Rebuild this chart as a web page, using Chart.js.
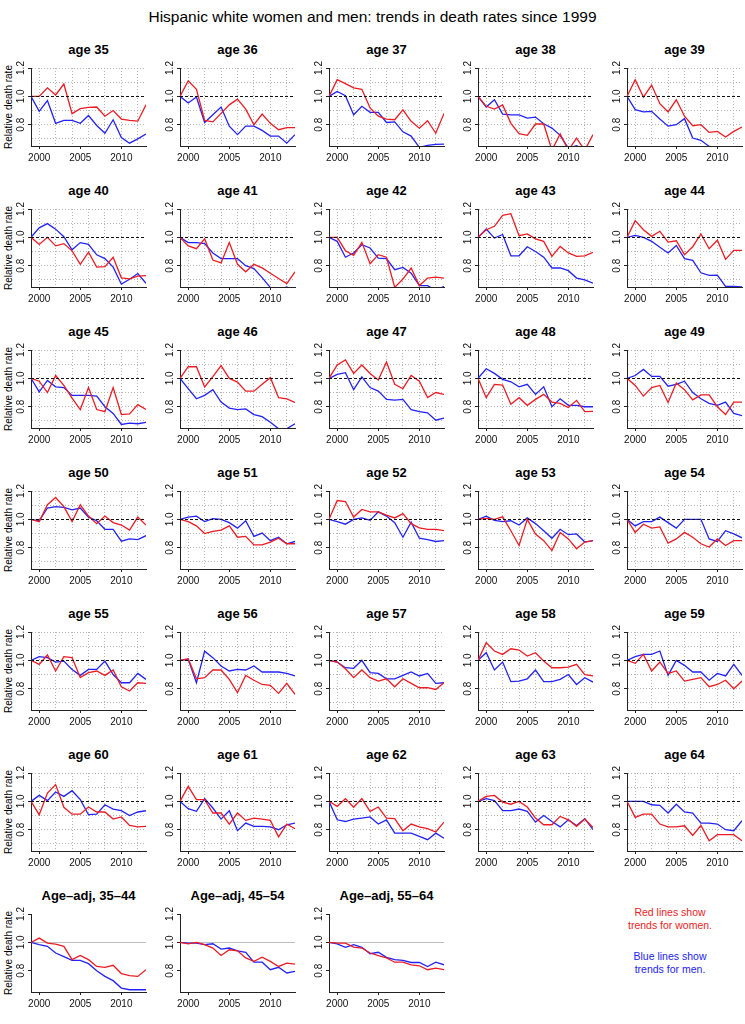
<!DOCTYPE html>
<html><head><meta charset="utf-8">
<script src="https://cdn.jsdelivr.net/npm/chart.js@4/dist/chart.umd.min.js"></script>
<style>
html,body{margin:0;padding:0;background:#fff;}
#wrap{position:relative;width:745px;height:1024px;overflow:hidden;font-family:'Liberation Sans',Arial,sans-serif;color:#000;}
canvas{position:absolute;}
.main{position:absolute;left:0;top:8px;width:745px;text-align:center;font-size:15.5px;line-height:18px;white-space:nowrap;}
.ttl{position:absolute;width:149px;text-align:center;font-weight:bold;font-size:13px;line-height:16px;white-space:nowrap;}
.ylab{position:absolute;width:120px;height:12px;line-height:12px;text-align:center;font-size:10px;white-space:nowrap;transform:rotate(-90deg);}
.leg{position:absolute;left:595px;width:150px;text-align:center;font-size:10.5px;line-height:13px;}
</style></head><body><div id="wrap"></div>
<script>
// ---------- data ----------
const years = [1999,2000,2001,2002,2003,2004,2005,2006,2007,2008,2009,2010,2011,2012,2013];
const xGridYears = [2000,2002,2004,2006,2008,2010,2012];
const xLabelYears = [2000,2005,2010];
const yTicks = [0.7,0.8,0.9,1.0,1.1,1.2];
const yTickLabels = ['','0.8','','1.0','','1.2'];
const referenceValue = 1.0;

const panelTitles = ['age 35','age 36','age 37','age 38','age 39',
  'age 40','age 41','age 42','age 43','age 44',
  'age 45','age 46','age 47','age 48','age 49',
  'age 50','age 51','age 52','age 53','age 54',
  'age 55','age 56','age 57','age 58','age 59',
  'age 60','age 61','age 62','age 63','age 64',
  'Age\u2013adj, 35\u201344','Age\u2013adj, 45\u201354','Age\u2013adj, 55\u201364'];

// women (red) / men (blue), relative to 1999
const w35 = [1.0,1.0,1.06,1.01,1.087,0.878,0.913,0.922,0.925,0.86,0.90,0.84,0.83,0.825,0.94];
const m35 = [1.0,0.894,0.97,0.81,0.83,0.83,0.81,0.865,0.795,0.74,0.835,0.71,0.67,0.70,0.735];
const w36 = [1.0,1.11,1.05,0.83,0.82,0.88,0.94,0.98,0.91,0.80,0.875,0.81,0.765,0.78,0.78];
const m36 = [1.0,0.953,0.995,0.816,0.87,0.925,0.79,0.73,0.79,0.79,0.76,0.72,0.72,0.67,0.73];
const w37 = [1.0,1.118,1.09,1.06,1.05,0.918,0.86,0.84,0.835,0.905,0.824,0.776,0.828,0.74,0.88];
const m37 = [1.0,1.035,1.005,0.87,0.93,0.887,0.887,0.816,0.82,0.75,0.72,0.64,0.655,0.662,0.663];
const w38 = [1.0,0.93,0.91,0.94,0.81,0.737,0.725,0.805,0.805,0.62,0.735,0.62,0.705,0.62,0.73];
const m38 = [1.0,0.925,0.976,0.875,0.87,0.87,0.847,0.854,0.807,0.776,0.725,0.635,0.652,0.62,0.61];
const w39 = [1.0,1.118,0.995,1.08,0.948,0.89,0.976,0.86,0.793,0.80,0.746,0.753,0.713,0.753,0.784];
const m39 = [1.0,0.906,0.89,0.894,0.84,0.79,0.80,0.843,0.706,0.69,0.647,0.64,0.63,0.62,0.61];
const w40 = [1.0,0.95,1.0,0.94,0.956,0.905,0.81,0.895,0.79,0.794,0.86,0.715,0.708,0.727,0.73];
const m40 = [1.0,1.067,1.097,1.058,1.005,0.912,0.963,0.95,0.877,0.85,0.79,0.67,0.705,0.745,0.676];
const w41 = [1.0,0.94,0.92,0.99,0.84,0.82,0.963,0.81,0.757,0.81,0.785,0.747,0.71,0.674,0.757];
const m41 = [1.0,0.963,0.963,0.956,0.89,0.85,0.85,0.85,0.80,0.78,0.716,0.646,0.63,0.65,0.62];
const w42 = [1.0,1.0,0.906,0.873,0.965,0.814,0.878,0.86,0.647,0.706,0.784,0.66,0.713,0.72,0.713];
const m42 = [1.0,0.972,0.86,0.89,0.948,0.925,0.854,0.85,0.772,0.788,0.748,0.66,0.66,0.626,0.654];
const w43 = [1.0,1.054,1.078,1.155,1.167,1.012,1.024,0.99,0.972,0.866,0.936,0.89,0.866,0.87,0.894];
const m43 = [1.0,1.059,0.995,1.02,0.87,0.87,0.934,0.90,0.86,0.784,0.784,0.765,0.713,0.70,0.677];
const w44 = [1.0,1.118,1.054,1.007,1.043,0.967,0.976,0.878,0.934,1.024,0.92,0.98,0.845,0.908,0.908];
const m44 = [1.0,1.014,1.0,0.972,0.93,0.89,0.943,0.85,0.838,0.75,0.732,0.734,0.654,0.654,0.65];
const w45 = [1.0,0.98,0.90,1.02,0.95,0.86,0.78,0.935,0.78,0.765,0.935,0.745,0.75,0.815,0.78];
const m45 = [1.0,0.905,0.985,0.94,0.935,0.88,0.88,0.88,0.875,0.80,0.753,0.675,0.685,0.68,0.69];
const w46 = [1.0,1.082,1.082,0.94,1.012,1.09,1.0,0.974,0.91,0.91,0.958,1.005,0.864,0.856,0.83];
const m46 = [1.0,0.927,0.856,0.88,0.92,0.833,0.79,0.78,0.785,0.745,0.73,0.69,0.645,0.645,0.68];
const w47 = [1.0,1.094,1.13,1.035,1.094,1.035,0.988,1.115,0.958,0.927,1.02,0.98,0.864,0.90,0.887];
const m47 = [1.0,1.028,1.04,0.92,1.01,0.935,0.91,0.852,0.847,0.852,0.78,0.765,0.757,0.705,0.72];
const w48 = [1.0,0.864,0.958,0.953,0.817,0.864,0.81,0.852,0.887,0.833,0.824,0.794,0.845,0.765,0.767];
const m48 = [1.0,1.068,1.035,0.993,0.976,0.94,0.958,0.887,0.94,0.80,0.856,0.81,0.81,0.80,0.80];
const w49 = [1.0,0.95,0.875,0.935,0.95,0.83,0.967,0.92,0.848,0.883,0.883,0.80,0.745,0.833,0.833];
const m49 = [1.0,1.02,1.063,1.014,1.014,0.945,0.957,0.98,0.90,0.856,0.824,0.81,0.833,0.753,0.737];
const w50 = [1.0,0.984,1.103,1.154,1.09,0.984,1.103,1.023,0.97,1.023,0.977,0.96,0.924,1.016,0.96];
const m50 = [1.0,0.99,1.08,1.09,1.084,1.067,1.08,1.016,0.99,0.93,0.93,0.846,0.862,0.857,0.885];
const w51 = [1.0,0.984,0.954,0.90,0.915,0.924,0.954,0.874,0.88,0.82,0.82,0.84,0.867,0.828,0.828];
const m51 = [1.0,1.016,1.023,0.984,1.005,1.0,0.977,0.938,0.99,0.88,0.903,0.85,0.874,0.828,0.844];
const w52 = [1.0,1.133,1.126,1.016,1.07,1.053,1.053,1.03,1.01,1.04,0.97,0.94,0.93,0.93,0.92];
const m52 = [1.0,0.984,0.966,1.0,1.01,0.993,1.053,1.023,0.977,0.874,0.98,0.867,0.857,0.844,0.85];
const w53 = [1.0,1.007,1.0,1.018,0.92,0.816,1.0,0.897,0.85,0.78,0.908,0.862,0.793,0.84,0.85];
const m53 = [1.0,1.023,0.993,0.984,0.99,0.96,1.01,0.97,0.92,0.867,0.93,0.892,0.897,0.84,0.85];
const w54 = [1.0,0.908,0.966,0.938,0.947,0.832,0.862,0.908,0.874,0.828,0.805,0.862,0.816,0.85,0.85];
const m54 = [1.0,0.954,0.984,0.984,1.016,0.977,0.938,1.0,1.0,1.0,0.862,0.844,0.92,0.897,0.87];
const w55 = [1.0,0.972,1.038,0.925,1.026,1.019,0.878,0.913,0.925,0.894,0.932,0.814,0.784,0.842,0.838];
const m55 = [1.0,1.026,1.019,0.988,0.995,0.936,0.894,0.936,0.936,0.995,0.90,0.842,0.842,0.908,0.866];
const w56 = [1.0,1.012,0.87,0.878,0.932,0.932,0.866,0.772,0.894,0.86,0.83,0.824,0.767,0.838,0.76];
const m56 = [1.0,1.007,0.842,1.065,1.019,0.96,0.925,0.936,0.932,0.96,0.918,0.918,0.918,0.908,0.89];
const w57 = [1.0,0.988,0.941,0.878,0.932,0.878,0.854,0.87,0.814,0.87,0.838,0.807,0.807,0.795,0.842];
const m57 = [1.0,0.988,0.948,0.944,1.0,0.913,0.908,0.87,0.87,0.894,0.918,0.89,0.908,0.838,0.842];
const w58 = [1.0,1.125,1.066,1.042,1.082,1.073,1.03,1.054,0.995,0.948,0.948,0.953,0.972,0.90,0.89];
const m58 = [1.0,1.054,0.932,0.988,0.85,0.854,0.87,0.932,0.85,0.85,0.866,0.90,0.83,0.878,0.847];
const w59 = [1.0,0.979,1.042,0.925,0.988,0.908,0.925,0.854,0.866,0.878,0.814,0.83,0.86,0.80,0.854];
const m59 = [1.0,1.026,1.042,1.042,1.066,0.894,1.0,0.965,0.918,0.918,0.86,0.908,0.89,0.972,0.894];
const w60 = [1.0,0.906,1.059,1.118,0.958,0.91,0.91,0.96,0.925,0.925,0.875,0.89,0.83,0.82,0.824];
const m60 = [1.0,1.042,1.005,1.066,1.035,1.075,1.012,0.906,0.91,0.976,0.946,0.934,0.90,0.925,0.934];
const w61 = [1.0,1.106,1.012,1.012,0.918,0.918,0.84,0.918,0.866,0.882,0.875,0.866,0.75,0.84,0.807];
const m61 = [1.0,0.948,0.93,1.019,0.953,0.875,0.934,0.793,0.847,0.824,0.824,0.82,0.80,0.835,0.847];
const w62 = [1.0,0.965,1.019,0.958,1.019,0.93,0.96,0.882,0.878,0.793,0.84,0.82,0.807,0.784,0.854];
const m62 = [1.0,0.87,0.858,0.875,0.882,0.89,0.84,0.87,0.776,0.776,0.776,0.753,0.73,0.776,0.74];
const w63 = [1.0,1.035,1.042,0.995,0.98,1.0,0.96,0.882,0.835,0.835,0.894,0.87,0.824,0.875,0.816];
const m63 = [1.0,1.019,1.005,0.934,0.934,0.946,0.93,0.854,0.90,0.858,0.82,0.87,0.83,0.878,0.80];
const w64 = [1.0,0.887,0.91,0.91,0.84,0.82,0.82,0.828,0.76,0.83,0.722,0.765,0.765,0.765,0.722];
const m64 = [1.0,1.0,1.0,0.976,0.972,0.918,0.98,0.925,0.918,0.847,0.847,0.84,0.80,0.793,0.864];
const wAdj3544 = [1.0,1.03,0.995,0.988,0.972,0.878,0.908,0.878,0.83,0.824,0.838,0.78,0.766,0.76,0.807];
const mAdj3544 = [1.0,0.984,0.972,0.925,0.90,0.873,0.873,0.85,0.80,0.76,0.73,0.678,0.666,0.666,0.666];
const wAdj4554 = [1.0,0.99,1.0,0.984,0.96,0.908,0.948,0.94,0.89,0.866,0.896,0.866,0.83,0.854,0.847];
const mAdj4554 = [1.0,0.995,0.995,0.984,0.99,0.953,0.96,0.94,0.93,0.86,0.86,0.807,0.824,0.784,0.795];
const wAdj5564 = [1.0,0.995,0.995,0.967,0.96,0.925,0.906,0.89,0.86,0.86,0.842,0.835,0.807,0.818,0.807];
const mAdj5564 = [1.0,0.99,0.965,0.984,0.965,0.92,0.93,0.894,0.878,0.873,0.858,0.858,0.83,0.86,0.842];

const womenSeries = [w35,w36,w37,w38,w39,w40,w41,w42,w43,w44,w45,w46,w47,w48,w49,w50,w51,w52,w53,w54,
  w55,w56,w57,w58,w59,w60,w61,w62,w63,w64,wAdj3544,wAdj4554,wAdj5564];
const menSeries = [m35,m36,m37,m38,m39,m40,m41,m42,m43,m44,m45,m46,m47,m48,m49,m50,m51,m52,m53,m54,
  m55,m56,m57,m58,m59,m60,m61,m62,m63,m64,mAdj3544,mAdj4554,mAdj5564];

// ---------- style ----------
const RED = '#ec1c24', BLUE = '#2323f5', AXIS = '#222', GRID = '#b4b4b4', NONE = 'rgba(0,0,0,0)';
const FAMILY = "'Liberation Sans', Arial, sans-serif";
Chart.defaults.font.family = FAMILY;
const CELL_W = 149, CELL_H = 141, TOP0 = 25;

const refLinePlugin = {
  id: 'refLine',
  _draw(chart, opts) {
    const {ctx, chartArea, scales} = chart;
    const py = Math.round(scales.y.getPixelForValue(referenceValue)) + 0.5;
    ctx.save();
    ctx.beginPath();
    ctx.rect(chartArea.left, chartArea.top, chartArea.right - chartArea.left, chartArea.bottom - chartArea.top);
    ctx.clip();
    ctx.strokeStyle = opts.adj ? '#bdbdbd' : '#111';
    ctx.lineWidth = opts.adj ? 1 : 1.2;
    ctx.setLineDash(opts.adj ? [] : [3, 2]);
    ctx.beginPath();
    ctx.moveTo(chartArea.left, py);
    ctx.lineTo(chartArea.right, py);
    ctx.stroke();
    ctx.restore();
  },
  beforeDatasetsDraw(chart, args, opts) { if (opts.adj) this._draw(chart, opts); },
  afterDatasetsDraw(chart, args, opts) { if (!opts.adj) this._draw(chart, opts); }
};

const wrap = document.getElementById('wrap');
function addDiv(cls, text, css) {
  const d = document.createElement('div');
  d.className = cls; d.textContent = text;
  Object.assign(d.style, css);
  wrap.appendChild(d);
  return d;
}

addDiv('main', 'Hispanic white women and men: trends in death rates since 1999', {});

const xTickValues = Array.from(new Set([...xGridYears, ...xLabelYears])).sort((a, b) => a - b);

panelTitles.forEach((title, idx) => {
  const r = Math.floor(idx / 5), c = idx % 5;
  const adj = idx >= 30;
  const left = CELL_W * c, top = CELL_H * r + TOP0;

  addDiv('ttl', title, {left: (left + 14) + 'px', top: (top + 17) + 'px'});
  if (c === 0) {
    addDiv('ylab', 'Relative death rate', {left: (8.5 - 60) + 'px', top: (top + 43 + 39 - 6) + 'px'});
  }

  const cv = document.createElement('canvas');
  cv.width = CELL_W; cv.height = CELL_H;
  cv.style.left = left + 'px'; cv.style.top = top + 'px';
  cv.style.width = CELL_W + 'px'; cv.style.height = CELL_H + 'px';
  wrap.appendChild(cv);

  const women = womenSeries[idx], men = menSeries[idx];
  new Chart(cv, {
    type: 'line',
    data: {
      datasets: [
        {label: 'women', data: years.map((y, i) => ({x: y, y: women[i]})), borderColor: RED,
         borderWidth: 1.3, pointRadius: 0, tension: 0, clip: 0, fill: false},
        {label: 'men', data: years.map((y, i) => ({x: y, y: men[i]})), borderColor: BLUE,
         borderWidth: 1.3, pointRadius: 0, tension: 0, clip: 0, fill: false}
      ]
    },
    options: {
      responsive: false, animation: false, events: [], devicePixelRatio: 1,
      layout: {padding: {left: 0, right: 3, top: 43, bottom: 0}},
      plugins: {legend: {display: false}, tooltip: {enabled: false}, title: {display: false}, refLine: {adj}},
      scales: {
        x: {
          type: 'linear', min: 1999, max: 2013, bounds: 'data',
          afterBuildTicks: s => { s.ticks = xTickValues.map(v => ({value: v})); },
          afterFit: s => { s.height = 20; },
          ticks: {autoSkip: false, maxRotation: 0, minRotation: 0, padding: 3, color: '#111',
            font: {size: 10, family: FAMILY},
            callback: v => xLabelYears.includes(v) ? String(v) : ''},
          grid: {
            lineWidth: 1, tickLength: 3, tickWidth: 1,
            color: ctx => (!adj && ctx.tick && xGridYears.includes(ctx.tick.value)) ? GRID : NONE,
            tickColor: ctx => (ctx.tick && xLabelYears.includes(ctx.tick.value)) ? AXIS : NONE
          },
          border: {display: true, color: AXIS, width: 1, dash: [1, 2]}
        },
        y: {
          type: 'linear', min: 0.65, max: 1.2, bounds: 'data',
          afterBuildTicks: s => { s.ticks = yTicks.map(v => ({value: v})); },
          afterFit: s => { s.width = 31; },
          ticks: {autoSkip: false, minRotation: 90, maxRotation: 90, crossAlign: 'center', padding: 0,
            color: '#111', font: {size: 10, family: FAMILY},
            callback: (v, i) => yTickLabels[i]},
          grid: {
            lineWidth: 1, tickLength: 3, tickWidth: 1,
            color: ctx => (!adj && ctx.tick && Math.abs(ctx.tick.value - referenceValue) > 1e-6) ? GRID : NONE,
            tickColor: ctx => (ctx.tick && yTickLabels[yTicks.indexOf(ctx.tick.value)]) ? AXIS : NONE
          },
          border: {display: true, color: AXIS, width: 1, dash: [1, 2]}
        }
      }
    },
    plugins: [refLinePlugin]
  });
});

addDiv('leg', 'Red lines show\ntrends for women.', {top: '906px', color: RED, whiteSpace: 'pre'});
addDiv('leg', 'Blue lines show\ntrends for men.', {top: '950px', color: BLUE, whiteSpace: 'pre'});
</script>
</body></html>
